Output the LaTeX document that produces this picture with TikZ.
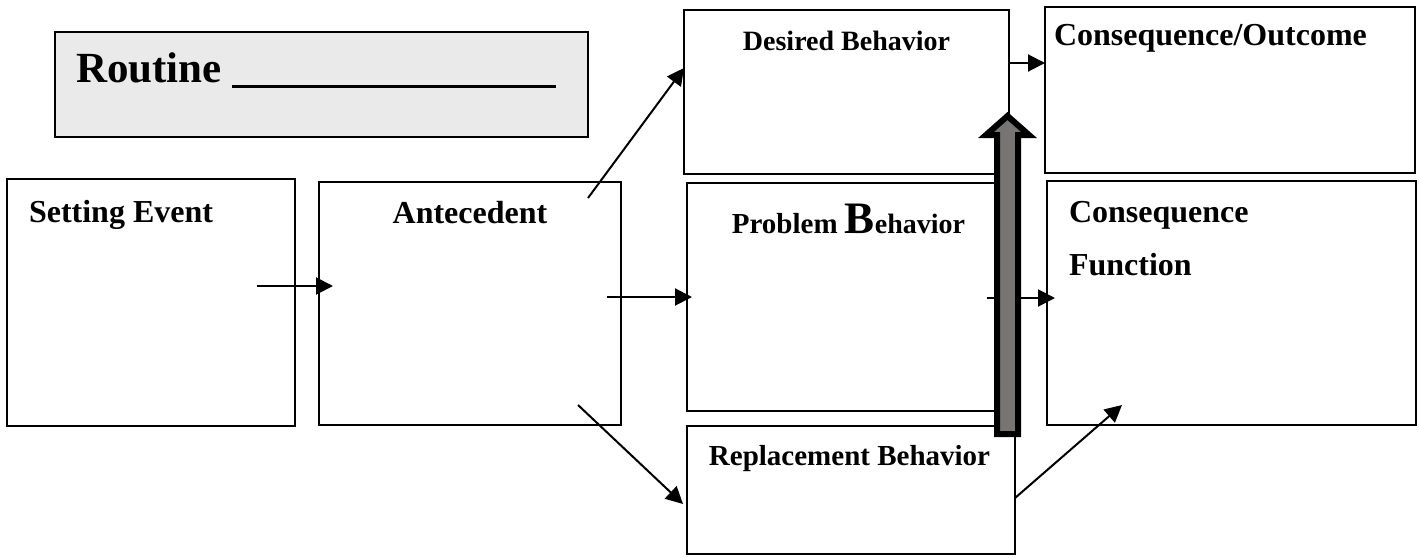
\documentclass[tikz,border=0pt]{standalone}
\usepackage{fontspec}
\setmainfont{Liberation Serif}
\usetikzlibrary{arrows.meta}
\definecolor{routinegray}{RGB}{234,234,234}
\definecolor{blockgray}{RGB}{120,116,115}

\begin{document}
\begin{tikzpicture}[x=0.5pt,y=-0.5pt,>={Triangle[length=8.5pt,width=8.5pt]},line width=1pt,
		box node/.style={draw,rectangle,inner sep=0pt,outer sep=0pt},
		text node/.style={inner sep=0pt,font=\bfseries\fontsize{16}{19}\selectfont},
		block arrow/.style={draw,line width=3pt,fill=blockgray,line join=miter}]
		\useasboundingbox (0,0) rectangle (1419,557);
		% boxes
		\node[box node,fill=routinegray,minimum width=266.5pt,minimum height=52.5pt] (routine) at (321.5,84.5) {};
		\node[box node,minimum width=144pt,minimum height=123.5pt] (setting) at (151,302.5) {};
		\node[box node,minimum width=151pt,minimum height=121.5pt] (antecedent) at (470,303.5) {};
		\node[box node,minimum width=162.5pt,minimum height=82pt] (desired) at (846.5,92) {};
		\node[box node,minimum width=185pt,minimum height=83pt] (outcome) at (1230,90) {};
		\node[box node,minimum width=161.5pt,minimum height=114pt] (problem) at (848.5,297) {};
		\node[box node,minimum width=184.5pt,minimum height=122pt] (function) at (1231.5,303) {};
		\node[box node,minimum width=164pt,minimum height=64pt] (replacement) at (851,490) {};
		% labels
		\node[text node,anchor=base west,font=\bfseries\fontsize{21.5}{26}\selectfont] (routine text)
		at ([shift={(20,50)}]routine.north west) {Routine\ \rule[-3pt]{162pt}{1.3pt}};
		\node[text node,anchor=base west] (setting text) at ([shift={(21,43)}]setting.north west) {Setting Event};
		\node[text node,anchor=base] (antecedent text) at ([shift={(0,41)}]antecedent.north) {Antecedent};
		\node[text node,anchor=base,font=\bfseries\fontsize{14}{17}\selectfont] (desired text)
		at ([shift={(0,40)}]desired.north) {Desired Behavior};
		\node[text node,anchor=base west] (outcome text) at ([shift={(8,38)}]outcome.north west) {Consequence/Outcome};
		\node[text node,anchor=base,font=\bfseries\fontsize{14.5}{17}\selectfont] (problem text)
		at ([shift={(0,50)}]problem.north) {Problem {\fontsize{22.5}{26}\selectfont B}{\fontsize{14}{17}\selectfont ehavior}};
		\node[text node,anchor=base west] (function text a) at ([shift={(21,41)}]function.north west) {Consequence};
		\node[text node,anchor=base west] (function text b) at ([shift={(21,94)}]function.north west) {Function};
		\node[text node,anchor=base,font=\bfseries\fontsize{14.5}{17}\selectfont] (replacement text)
		at ([shift={(-1.5,39)}]replacement.north) {Replacement Behavior};
		% connectors
		\draw[->] ([xshift=-19pt,yshift=8.25pt]setting.east) -- ([xshift=7pt,yshift=8.75pt]antecedent.west);
		\draw[->] ([xshift=-7pt,yshift=3.25pt]antecedent.east) -- ([xshift=2.5pt]problem.west);
		\draw[->] ([xshift=-16.5pt,yshift=-8pt]antecedent.north east) -- ([yshift=12pt]desired.west);
		\draw[->] ([xshift=-21.5pt,yshift=10pt]antecedent.south east) -- ([xshift=-2pt,yshift=-7pt]replacement.west);
		\draw[->] ([yshift=14.5pt]desired.east) -- ([yshift=13.5pt]outcome.west);
		\draw[->] ([xshift=-11.5pt,yshift=-0.5pt]problem.east) -- ([xshift=4pt,yshift=2.5pt]function.west);
		\draw[->] ([yshift=-4pt]replacement.east) -- ([xshift=37.5pt,yshift=10pt]function.south west);
		% block arrow
		\draw[block arrow] (997,434) -- (997,135) -- (986,135) -- (1007.5,116) -- (1029,135)
		-- (1018,135) -- (1018,434) -- cycle;
\end{tikzpicture}
\end{document}
